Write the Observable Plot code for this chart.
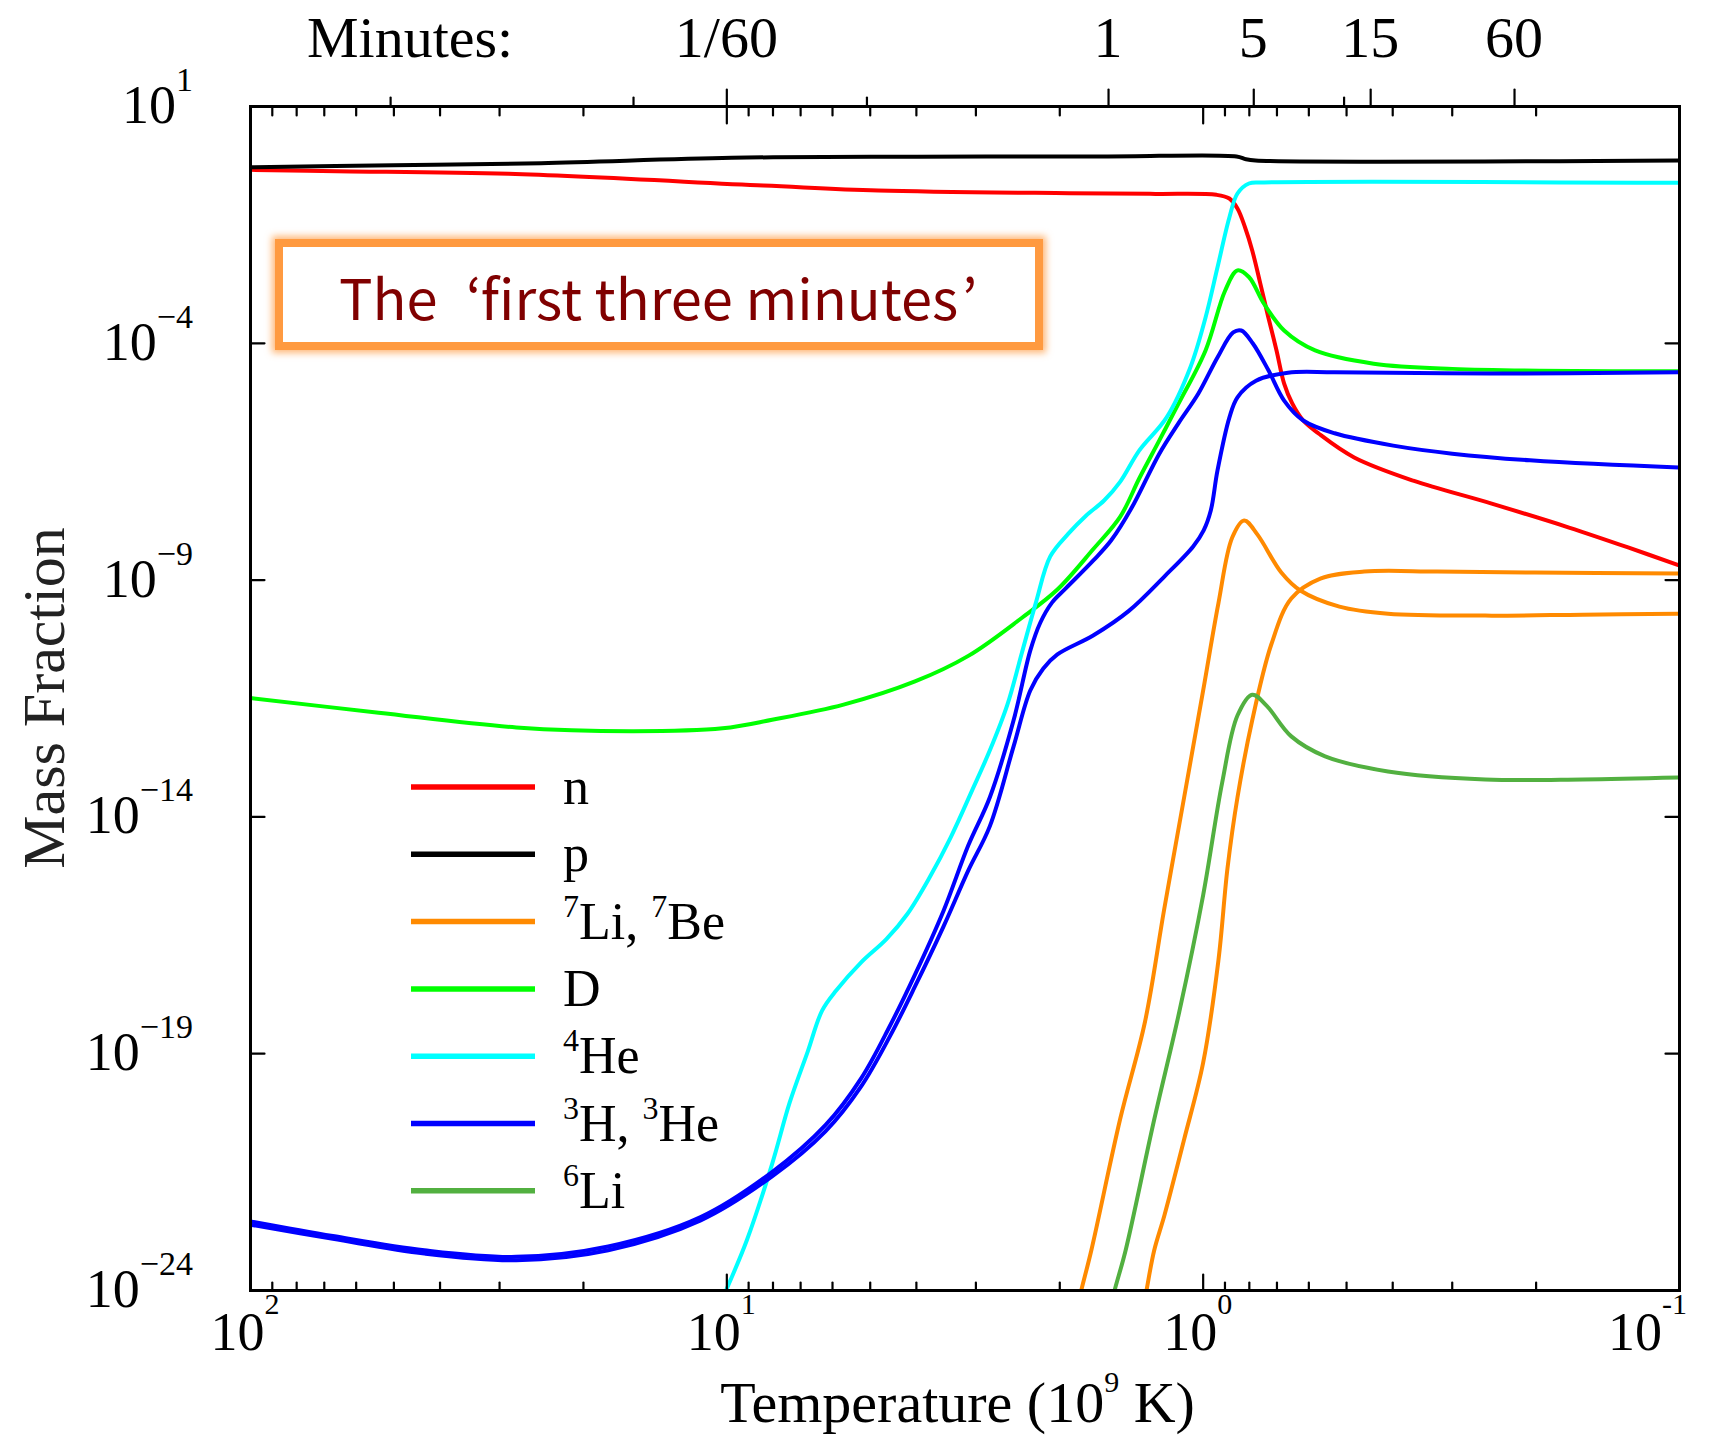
<!DOCTYPE html>
<html>
<head>
<meta charset="utf-8">
<script src="https://cdn.jsdelivr.net/npm/d3@7"></script>
<script src="https://cdn.jsdelivr.net/npm/@observablehq/plot@0.6"></script>
<style>
  html, body { margin: 0; padding: 0; background: #fff; }
  #chart svg { display: block; }
  text { white-space: pre; }
</style>
</head>
<body>
<div id="chart"></div>
<script>
// ---------------- DATA ----------------
// Each point: [log10 of temperature (10^9 K), log10 of mass fraction]
const neutron = [[2.00,-0.337],[1.819,-0.366],[1.458,-0.421],[0.923,-0.668],[0.682,-0.774],[0.281,-0.831],[0.10,-0.845],[-0.028,-0.865],[-0.055,-0.943],[-0.072,-1.154],[-0.088,-1.555],[-0.103,-2.04],[-0.120,-2.74],[-0.137,-3.46],[-0.154,-4.15],[-0.170,-4.85],[-0.187,-5.27],[-0.210,-5.63],[-0.243,-5.91],[-0.317,-6.41],[-0.441,-6.90],[-0.604,-7.38],[-0.768,-7.89],[-0.892,-8.31],[-0.999,-8.69]];
const proton = [[2.00,-0.282],[1.70,-0.24],[1.39,-0.197],[0.99,-0.083],[0.60,-0.06],[0.20,-0.055],[-0.07,-0.055],[-0.09,-0.115],[-0.11,-0.14],[-1.00,-0.14]];
const lithium7 = [[0.27,-24.6],[0.256,-24.0],[0.235,-23.16],[0.174,-20.37],[0.122,-18.32],[0.082,-15.96],[0.040,-13.59],[0.000,-11.33],[-0.032,-9.49],[-0.061,-8.10],[-0.086,-7.74],[-0.114,-8.04],[-0.164,-8.84],[-0.204,-9.22],[-0.286,-9.56],[-0.388,-9.71],[-0.592,-9.75],[-0.797,-9.73],[-0.997,-9.71]];
const beryllium7 = [[0.13,-24.6],[0.119,-24.0],[0.103,-23.16],[0.081,-22.40],[0.040,-20.81],[0.000,-19.19],[-0.032,-17.03],[-0.051,-15.09],[-0.072,-13.59],[-0.103,-11.96],[-0.143,-10.36],[-0.185,-9.39],[-0.246,-8.97],[-0.338,-8.82],[-0.491,-8.82],[-0.695,-8.84],[-0.997,-8.86]];
const deuterium = [[2.00,-11.49],[1.731,-11.80],[1.442,-12.11],[1.201,-12.19],[1.009,-12.13],[0.905,-11.95],[0.755,-11.63],[0.605,-11.14],[0.493,-10.60],[0.381,-9.80],[0.306,-9.20],[0.231,-8.35],[0.174,-7.66],[0.134,-6.85],[0.092,-6.05],[0.052,-5.28],[-0.005,-4.15],[-0.046,-2.89],[-0.072,-2.46],[-0.096,-2.60],[-0.128,-3.17],[-0.170,-3.73],[-0.235,-4.15],[-0.358,-4.43],[-0.523,-4.54],[-0.998,-4.59]];
const helium4 = [[1.04,-24.9],[1.0025,-24.02],[0.958,-22.94],[0.905,-21.33],[0.868,-20.03],[0.830,-18.95],[0.800,-18.09],[0.770,-17.66],[0.718,-17.07],[0.665,-16.58],[0.621,-16.05],[0.575,-15.29],[0.530,-14.43],[0.486,-13.46],[0.448,-12.60],[0.411,-11.63],[0.381,-10.55],[0.351,-9.47],[0.321,-8.50],[0.283,-8.02],[0.246,-7.64],[0.208,-7.32],[0.174,-6.92],[0.134,-6.26],[0.077,-5.57],[0.027,-4.51],[-0.005,-3.455],[-0.030,-2.40],[-0.055,-1.344],[-0.072,-0.837],[-0.096,-0.626],[-0.128,-0.605],[-0.999,-0.611]];
const tritium = [[2.00,-22.54],[1.827,-22.85],[1.635,-23.15],[1.442,-23.29],[1.249,-23.07],[1.055,-22.45],[0.905,-21.50],[0.793,-20.51],[0.718,-19.52],[0.658,-18.42],[0.605,-17.33],[0.545,-15.98],[0.493,-14.60],[0.448,-13.59],[0.398,-11.96],[0.363,-10.49],[0.342,-9.90],[0.317,-9.47],[0.289,-9.18],[0.231,-8.59],[0.193,-8.16],[0.151,-7.49],[0.092,-6.33],[0.052,-5.69],[0.010,-5.06],[-0.030,-4.30],[-0.063,-3.77],[-0.080,-3.73],[-0.104,-4.00],[-0.137,-4.57],[-0.170,-5.21],[-0.210,-5.63],[-0.276,-5.90],[-0.399,-6.16],[-0.523,-6.33],[-0.686,-6.47],[-0.998,-6.62]];
const helium3 = [[2.00,-22.61],[1.827,-22.91],[1.635,-23.22],[1.442,-23.36],[1.249,-23.15],[1.055,-22.52],[0.905,-21.59],[0.793,-20.64],[0.718,-19.69],[0.658,-18.64],[0.605,-17.58],[0.545,-16.31],[0.493,-15.13],[0.448,-14.20],[0.398,-12.51],[0.363,-11.33],[0.336,-10.87],[0.306,-10.57],[0.231,-10.17],[0.156,-9.65],[0.081,-8.92],[0.021,-8.29],[-0.001,-7.95],[-0.016,-7.53],[-0.030,-6.69],[-0.055,-5.57],[-0.072,-5.14],[-0.111,-4.79],[-0.178,-4.62],[-0.276,-4.61],[-0.604,-4.64],[-0.998,-4.61]];
const lithium6 = [[0.20,-24.6],[0.186,-24.0],[0.163,-23.16],[0.103,-20.4],[0.050,-18.11],[0.000,-15.65],[-0.040,-13.27],[-0.072,-11.86],[-0.103,-11.42],[-0.133,-11.65],[-0.185,-12.30],[-0.256,-12.72],[-0.388,-13.04],[-0.592,-13.21],[-0.797,-13.21],[-0.997,-13.17]];

const seriesNames = ["n", "p", "7Li", "7Be", "D", "4He", "3H", "3He", "6Li"];
const seriesPoints = [neutron, proton, lithium7, beryllium7, deuterium, helium4, tritium, helium3, lithium6];
const seriesColors = ["#ff0000", "#000000", "#ff8a00", "#ff8a00", "#00ff00", "#00ffff", "#0000ff", "#0000ff", "#52b040"];

// legend: entry -> series used for its colour, and its label parts [text, isSuperscript]
const legendSeries = ["n", "p", "7Li", "D", "4He", "3H", "6Li"];
const legendLabels = [
  [["n", 0]],
  [["p", 0]],
  [["7", 1], ["Li, ", 0], ["7", 1], ["Be", 0]],
  [["D", 0]],
  [["4", 1], ["He", 0]],
  [["3", 1], ["H, ", 0], ["3", 1], ["He", 0]],
  [["6", 1], ["Li", 0]]
];

// axes
const xDecades = [100, 10, 1, 0.1];
const xDecadeExp = ["2", "1", "0", "-1"];
const xMinor = [90, 80, 70, 60, 50, 40, 30, 20, 9, 8, 7, 6, 5, 4, 3, 2, 0.9, 0.8, 0.7, 0.6, 0.5, 0.4, 0.3, 0.2];
const yTicks = [1e1, 1e-4, 1e-9, 1e-14, 1e-19, 1e-24];
const yTickExp = ["1", "\u22124", "\u22129", "\u221214", "\u221219", "\u221224"];
// top axis: elapsed time in minutes, placed at the temperature reached at that time
const minuteLabels = ["1/60", "1", "5", "15", "60"];
const minuteT = [10, 1.58, 0.783, 0.445, 0.222];
const minuteMinorT = [50.8, 15.7, 5.08, 0.506];

// annotation, split only so the quotes can be spaced like the original
const annotationParts = ["The ", "\u2018", "first three minutes", "\u2019"];

// ---------------- BUILD ----------------
const FONT = "'Liberation Serif', 'Times New Roman', serif";
const W = 1713, H = 1441, ML = 250, MR = 34, MT = 106, MB = 151;

const table = seriesNames.flatMap((name, i) =>
  seriesPoints[i].map(([lt, lx]) => ({name, T: 10 ** lt, X: 10 ** lx})));

const tickShape = {draw(ctx, l) { ctx.moveTo(0, 0); ctx.lineTo(0, -l); }};
const tk = (data, chan, frameAnchor, rotate, length) =>
  Plot.vector(data, {[chan]: d => d, frameAnchor, rotate, length, anchor: "start",
    shape: tickShape, stroke: "black", strokeWidth: 2.2});

function rich(g, x, y, parts, size, supSize, rise, anchor = "start") {
  const t = g.append("text").attr("x", x).attr("y", y).attr("font-size", size)
    .attr("text-anchor", anchor).attr("fill", "#000");
  let cur = 0;
  for (const [s, sup] of parts) {
    const target = sup ? -rise : 0;
    t.append("tspan").attr("dy", target - cur).attr("font-size", sup ? supSize : size).text(s);
    cur = target;
  }
  return t;
}

const xLabelMark = (index, scales, values, dims) => {
  const g = d3.create("svg:g").attr("font-family", FONT);
  xDecades.forEach((v, i) => {
    const last = i === xDecades.length - 1;
    rich(g, scales.x(v) + (last ? 8 : -5), dims.height - dims.marginBottom + 60,
      [["10", 0], [xDecadeExp[i], 1]], 54, 30, 36, last ? "end" : "middle");
  });
  rich(g, (dims.marginLeft + dims.width - dims.marginRight) / 2 - 7, dims.height - 19,
    [["Temperature (10", 0], ["9", 1], [" K)", 0]], 58, 30, 30, "middle");
  return g.node();
};

const yLabelMark = (index, scales, values, dims) => {
  const g = d3.create("svg:g").attr("font-family", FONT);
  yTicks.forEach((v, i) => {
    rich(g, dims.marginLeft - 57, scales.y(v) + 17, [["10", 0], [yTickExp[i], 1]], 54, 34, 32, "end");
  });
  const cy = (dims.marginTop + dims.height - dims.marginBottom) / 2;
  g.append("text").attr("transform", `translate(64,${cy}) rotate(-90)`)
    .attr("text-anchor", "middle").attr("font-size", 60).attr("fill", "#222").text("Mass Fraction");
  return g.node();
};

const topLabelMark = (index, scales, values, dims) => {
  const g = d3.create("svg:g").attr("font-family", FONT).attr("fill", "#000").attr("font-size", 58);
  const yb = dims.marginTop - 49;
  g.append("text").attr("x", dims.marginLeft + 57).attr("y", yb).attr("text-anchor", "start").text("Minutes:");
  minuteLabels.forEach((s, i) => {
    g.append("text").attr("x", scales.x(minuteT[i])).attr("y", yb).attr("text-anchor", "middle").text(s);
  });
  return g.node();
};

const legendMark = (index, scales, values, dims) => {
  const g = d3.create("svg:g").attr("font-family", FONT);
  legendSeries.forEach((name, i) => {
    const y = dims.marginTop + 681 + i * 67.3;
    g.append("line").attr("x1", dims.marginLeft + 161).attr("x2", dims.marginLeft + 285)
      .attr("y1", y).attr("y2", y).attr("stroke", scales.color(name)).attr("stroke-width", 5.5);
    rich(g, dims.marginLeft + 313, y + 17, legendLabels[i], 52, 32, 22);
  });
  return g.node();
};

const annotationMark = (index, scales, values, dims) => {
  const g = d3.create("svg:g");
  const defs = g.append("defs");
  const f = defs.append("filter").attr("id", "glow").attr("x", "-10%").attr("y", "-30%").attr("width", "120%").attr("height", "160%");
  f.append("feGaussianBlur").attr("stdDeviation", 3.5);
  const x0 = dims.marginLeft + 29, y0 = dims.marginTop + 137, w = 760, h = 103;
  g.append("rect").attr("x", x0).attr("y", y0).attr("width", w).attr("height", h)
    .attr("fill", "none").attr("stroke", "#ffb878").attr("stroke-width", 14).attr("filter", "url(#glow)");
  g.append("rect").attr("x", x0).attr("y", y0).attr("width", w).attr("height", h)
    .attr("fill", "#fff").attr("stroke", "#ff9a40").attr("stroke-width", 8);
  const t = g.append("text").attr("x", x0 + 60).attr("y", y0 + 77).attr("text-anchor", "start")
    .attr("font-family", "'Noto Sans CJK JP', 'Noto Sans', sans-serif")
    .attr("font-size", 56).attr("fill", "#800000");
  t.append("tspan").text(annotationParts[0]);
  t.append("tspan").attr("dx", 16).text(annotationParts[1]);
  t.append("tspan").text(annotationParts[2]);
  t.append("tspan").attr("dx", 4).text(annotationParts[3]);
  return g.node();
};

const chart = Plot.plot({
  width: W, height: H,
  marginLeft: ML, marginRight: MR, marginTop: MT, marginBottom: MB,
  style: {fontFamily: FONT, background: "#fff", overflow: "visible"},
  x: {type: "log", domain: [100, 0.1], axis: null},
  y: {type: "log", domain: [1e-24, 10], axis: null},
  color: {domain: seriesNames, range: seriesColors},
  marks: [
    Plot.line(table, {x: "T", y: "X", z: "name", stroke: "name", strokeWidth: 4,
      curve: "catmull-rom", clip: true}),
    annotationMark,
    legendMark,
    tk(xDecades, "x", "bottom", 0, 16),
    tk(xMinor, "x", "bottom", 0, 8),
    tk(xDecades, "x", "top", 180, 17),
    tk(xMinor, "x", "top", 180, 9),
    tk(minuteT, "x", "top", 0, 17),
    tk(minuteMinorT, "x", "top", 0, 9),
    tk(yTicks, "y", "left", 90, 14),
    tk(yTicks, "y", "right", -90, 14),
    Plot.frame({stroke: "black", strokeWidth: 3}),
    xLabelMark,
    yLabelMark,
    topLabelMark
  ]
});

document.getElementById("chart").appendChild(chart);
</script>
</body>
</html>
